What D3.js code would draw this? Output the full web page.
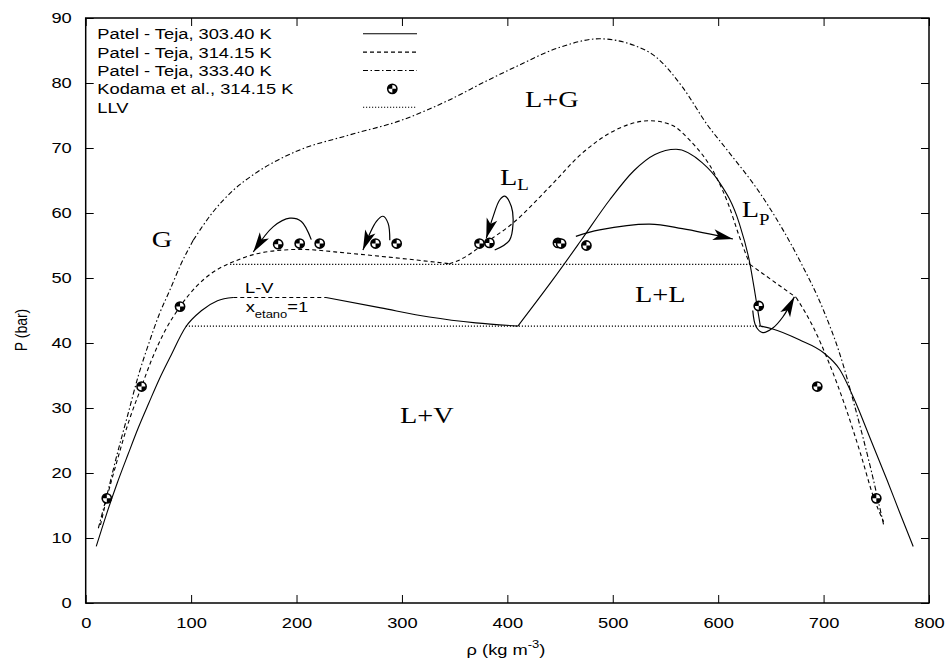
<!DOCTYPE html>
<html>
<head>
<meta charset="utf-8">
<script src="https://cdn.jsdelivr.net/npm/d3@7"></script>
<style>
  body { margin: 0; background: #fff; }
  svg { display: block; }
  text { font-family: "Liberation Sans", Arial, Helvetica, sans-serif; fill: #000; }
  .serif { font-family: "Liberation Serif", "Times New Roman", serif; }
</style>
</head>
<body>
<svg id="chart" width="951" height="667"></svg>
<script>
// density (kg m-3), pressure (bar)
const t303Left = [[10,8.7],[20,13.8],[30,18.5],[40,22.8],[50,27],[60,30.8],[70,34.5],[80,37.8],[95,42.5],[110,45],[125,46.5],[140,47]]
const lvPure = [[140,47],[228,47]]
const t303Right = [[228,47],[280,45.4],[326,44],[370,43.1],[410,42.6],[443,49.7],[470,55.8],[497,62],[520,66.5],[540,69],[560,69.8],[585,67.7],[600,65],[620,58.4],[630,52.3],[635,47.6],[640,42.6],[651,42.2],[677,40.5],[700,38.5],[715,36],[730,31],[745,25],[760,19],[772,14],[785,8.7]]
const t303Corners = [410, 640]

const t314 = [[14,12],[20,16.1],[30,22],[40,27.5],[53,33.3],[62.5,37.4],[75,41.8],[89.5,45.6],[105,48.7],[120,50.8],[137,52.3],[159,53.6],[180,54.2],[203,54.4],[250,53.8],[300,53],[345,52.2],[355,52.8],[380,55.5],[405,58.4],[440,64],[471,69.2],[503,72.8],[535,74.2],[555,73.6],[573,71.2],[598,65.6],[610,61.2],[620,56.4],[630,52.1],[674,47],[690,42.5],[705,37],[720,30.5],[735,23],[748,16],[757,12.5]]
const t314Corners = [137, 345, 630, 674]

const t333 = [[12,11.5],[20,16.5],[30,23],[40,29],[50,35],[60,40],[70,44.5],[80,48.2],[90,52],[102,55.8],[120,60],[140,63.5],[160,66],[200,69.5],[250,72],[300,74.3],[345,77.4],[380,80.3],[408,82.5],[450,85.5],[487,86.8],[520,85.8],[541,84],[566,79.4],[590,73.5],[607,70],[642,62.5],[677,52.8],[700,45],[715,38.5],[730,30],[745,20.5],[757,12]]
const t333Corners = [102]

const llvUpper = [[137,52.1],[630,52.1]]
const llvLower = [[95,42.6],[640,42.6]]

const kodama = [[20,16.1],[53,33.3],[89.5,45.6],[182.6,55.2],[203,55.3],[222,55.3],[275,55.3],[295,55.3],[373.6,55.3],[383,55.4],[448,55.4],[451,55.3],[475,55],[638.5,45.7],[694,33.3],[750,16.1]]

const arrows = [
  [[214,55.9],[204.6,58.7],[193.7,59.2],[178,57.9],[159,54]],
  [[288.5,55.8],[286.9,58.4],[282,59.5],[275.8,58.7],[263,54.3]],
  [[388,54.3],[402,55.8],[405.4,58.4],[403.8,61],[397.5,62.6],[392.7,62],[386.4,59.4],[380,56.1]],
  [[465,56.4],[487.5,57.4],[535,58.3],[566,57.6],[614,56]],
  [[632.8,45],[636,42.5],[642.3,41.6],[651.8,42.3],[661.3,44],[672.3,47.1]]
]

const xTicks = [0,100,200,300,400,500,600,700,800]
const yTicks = [0,10,20,30,40,50,60,70,80,90]

const legendLabels = ["Patel - Teja, 303.40 K","Patel - Teja, 314.15 K","Patel - Teja, 333.40 K","Kodama et al., 314.15 K","LLV"]
const legendKinds = ["solid","dashed","dashdot","point","dotted"]

const SX = 1.18  // the picture is stretched sideways
const dashes = {solid: null, dashed: "4,3", dashdot: "5,2.5,1.5,2.5", dotted: "1.2,1.8"}

let svg = d3.select('#chart')
let x = d3.scaleLinear().domain([0, 800]).range([85.7, 929])
let y = d3.scaleLinear().domain([0, 90]).range([603, 18])

let defs = svg.append('defs')
defs.append('marker')
    .attr('id', 'head')
    .attr('viewBox', '-22 -8 24 16')
    .attr('refX', 0).attr('refY', 0)
    .attr('markerWidth', 24).attr('markerHeight', 16)
    .attr('markerUnits', 'userSpaceOnUse')
    .attr('orient', 'auto')
  .append('path')
    .attr('d', 'M0,0 L-20,-5.5 L-15,0 L-20,5.5 Z')
    .attr('fill', '#000')

let line = d3.line().x(d => x(d[0])).y(d => y(d[1])).curve(d3.curveMonotoneX)
let arrowLine = d3.line().x(d => x(d[0])).y(d => y(d[1])).curve(d3.curveCatmullRom.alpha(0.5))

function pieces(pts, corners) {
    let out = [], cur = []
    pts.forEach(p => {
        cur.push(p)
        if (corners.includes(p[0]) && cur.length > 1) { out.push(cur); cur = [p] }
    })
    if (cur.length > 1) out.push(cur)
    return out
}

function drawCurve(pts, corners, kind) {
    svg.append('g').selectAll('path')
        .data(pieces(pts, corners))
        .join('path')
            .attr('d', line)
            .attr('fill', 'none')
            .attr('stroke', '#000')
            .attr('stroke-width', 1.1)
            .attr('stroke-dasharray', dashes[kind])
}

// axes: inward ticks on all four sides
let plotB = y(0), plotT = y(90), plotL = x(0), plotR = x(800)

let xAxis = svg.append('g').attr('transform', `translate(0,${plotB})`)
    .call(d3.axisBottom(x).tickValues(xTicks).tickSizeInner(-8).tickSizeOuter(0).tickPadding(14))
xAxis.selectAll('text').attr('transform', `scale(${SX},1)`).style('font-size', '15.5px')
svg.append('g').attr('transform', `translate(0,${plotT})`)
    .call(d3.axisTop(x).tickValues(xTicks).tickSizeInner(-8).tickSizeOuter(0).tickFormat(''))
let yAxis = svg.append('g').attr('transform', `translate(${plotL},0)`)
    .call(d3.axisLeft(y).tickValues(yTicks).tickSizeInner(-8).tickSizeOuter(0).tickPadding(14))
yAxis.selectAll('text').attr('x', -14 / SX).attr('transform', `scale(${SX},1)`).style('font-size', '15.5px')
svg.append('g').attr('transform', `translate(${plotR},0)`)
    .call(d3.axisRight(y).tickValues(yTicks).tickSizeInner(-8).tickSizeOuter(0).tickFormat(''))
svg.selectAll('.domain').remove()
svg.selectAll('.tick line').attr('stroke', '#000').attr('stroke-width', 1)

svg.append('rect')
    .attr('x', plotL).attr('y', plotT)
    .attr('width', plotR - plotL).attr('height', plotB - plotT)
    .attr('fill', 'none').attr('stroke', '#000').attr('stroke-width', 1.5)

// curves
drawCurve(t303Left, [], 'solid')
drawCurve(lvPure, [], 'dashed')
drawCurve(t303Right, t303Corners, 'solid')
drawCurve(t314, t314Corners, 'dashed')
drawCurve(t333, t333Corners, 'dashdot')
drawCurve(llvUpper, [], 'dotted')
drawCurve(llvLower, [], 'dotted')

// annotation arrows
svg.append('g').selectAll('path')
    .data(arrows)
    .join('path')
        .attr('d', arrowLine)
        .attr('fill', 'none')
        .attr('stroke', '#000')
        .attr('stroke-width', 1.2)
        .attr('marker-end', 'url(#head)')

// measured points
let arc = d3.arc().innerRadius(0).outerRadius(4.6)
function pointMark(g) {
    g.append('circle').attr('r', 4.6).attr('fill', '#fff').attr('stroke', '#000').attr('stroke-width', 1.6)
    g.append('path').attr('d', arc({startAngle: -Math.PI / 2, endAngle: 0})).attr('fill', '#000')
    g.append('path').attr('d', arc({startAngle: Math.PI / 2, endAngle: Math.PI})).attr('fill', '#000')
}
svg.append('g').selectAll('g')
    .data(kodama)
    .join('g')
        .attr('transform', d => `translate(${x(d[0])},${y(d[1])})`)
        .each(function() { pointMark(d3.select(this)) })

// legend
let legend = svg.append('g')
legendLabels.forEach((lab, i) => {
    let base = 39.3 + i * 18.35
    legend.append('text')
        .attr('transform', `translate(97.3,${base}) scale(${SX},1)`)
        .style('font-size', '15.5px')
        .text(lab)
    let k = legendKinds[i]
    if (k === 'point') {
        let g = legend.append('g').attr('transform', `translate(392.3,${base - 5.5})`)
        pointMark(g)
    } else {
        legend.append('line')
            .attr('x1', 363).attr('x2', 417)
            .attr('y1', base - 5.5).attr('y2', base - 5.5)
            .attr('stroke', '#000').attr('stroke-width', 1.1)
            .attr('stroke-dasharray', dashes[k])
    }
})

// region labels
function serif(txt, px, py, size) {
    return svg.append('text').attr('class', 'serif')
        .attr('transform', `translate(${px},${py}) scale(${SX},1)`)
        .style('font-size', size + 'px')
        .text(txt)
}
serif('L+G', 525, 107.3, 24)
serif('G', 151.7, 246.7, 24)
serif('L+L', 635, 301.7, 24)
serif('L+V', 400, 423, 24)
let ll = serif('L', 500, 185, 24)
ll.append('tspan').attr('dy', 5).style('font-size', '16px').text('L')
let lp = serif('L', 741.7, 216.7, 24)
lp.append('tspan').attr('dy', 8).style('font-size', '16px').text('P')

svg.append('text')
    .attr('transform', `translate(245,293.3) scale(${SX},1)`)
    .style('font-size', '15.5px')
    .text('L-V')
let xe = svg.append('text')
    .attr('transform', `translate(245.7,311.5) scale(${SX},1)`)
    .style('font-size', '15.5px')
    .text('x')
xe.append('tspan').attr('dy', 6).style('font-size', '11px').text('etano')
xe.append('tspan').attr('dy', -6).text('=1')

// axis titles
let xt = svg.append('text')
    .attr('transform', `translate(506,655) scale(${SX},1)`)
    .attr('text-anchor', 'middle')
    .style('font-size', '15.5px')
    .text('ρ (kg m')
xt.append('tspan').attr('dy', -7).style('font-size', '11px').text('-3')
xt.append('tspan').attr('dy', 7).text(')')

svg.append('text')
    .attr('transform', `translate(26.5,330) rotate(-90) scale(1,${SX})`)
    .attr('text-anchor', 'middle')
    .style('font-size', '14px')
    .text('P (bar)')
</script>
</body>
</html>
